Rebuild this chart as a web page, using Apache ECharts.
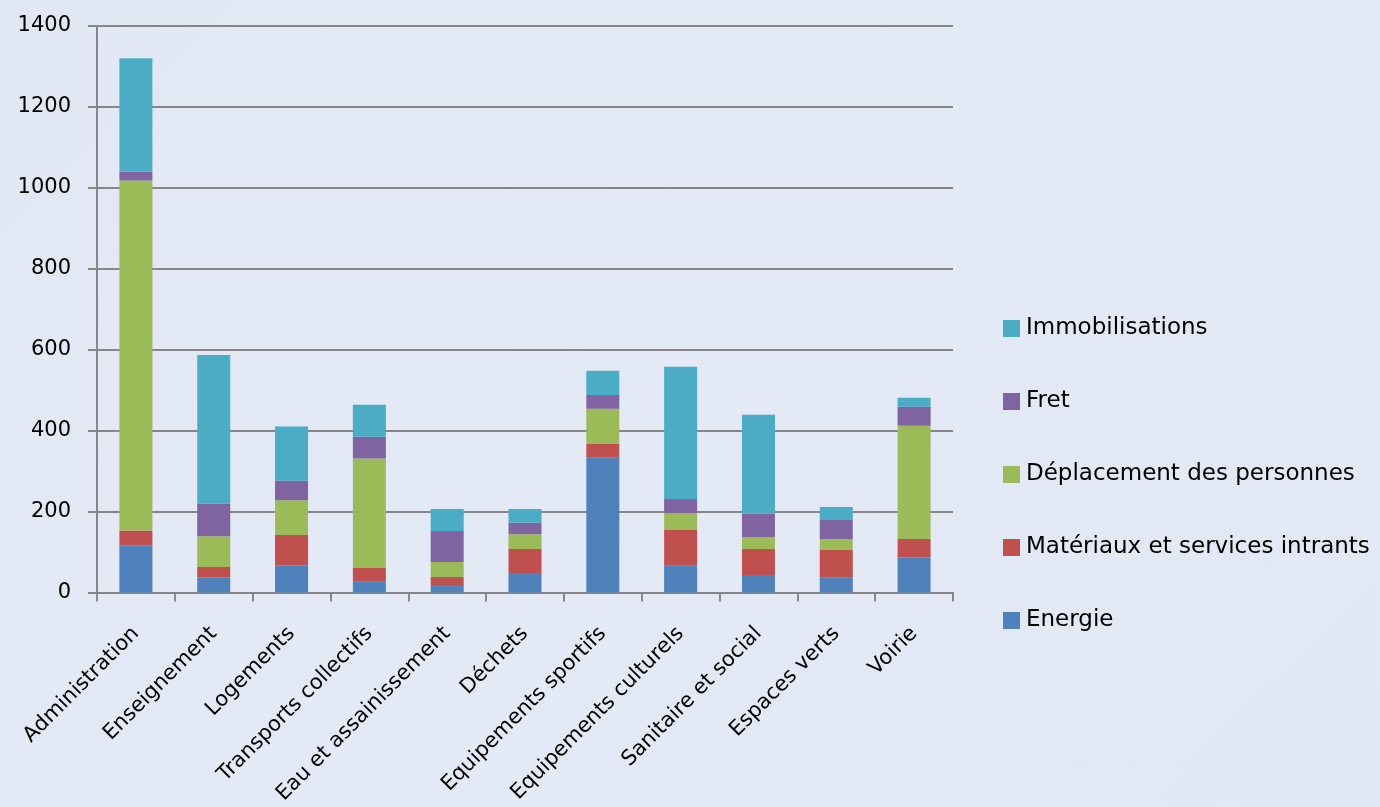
<!DOCTYPE html>
<html><head><meta charset="utf-8">
<script src="https://cdn.jsdelivr.net/npm/echarts@6/dist/echarts.min.js"></script>
<style>
html,body{margin:0;padding:0;}
#c{width:1380px;height:807px;background:linear-gradient(135deg,#e1e7f3 0%,#e3e9f5 50%,#e1e8f4 100%);}
</style></head><body>
<div id="c"></div>
<script>
const categories = ['Administration','Enseignement','Logements','Transports collectifs','Eau et assainissement','Déchets','Equipements sportifs','Equipements culturels','Sanitaire et social','Espaces verts','Voirie'];
const energie        = [115, 37, 67, 26, 18, 48, 333, 66, 43, 36, 86];
const materiaux      = [38, 26, 75, 34, 20, 59, 34, 88, 64, 69, 46];
const deplacement    = [865, 76, 86, 271, 37, 37, 87, 42, 30, 27, 280];
const fret           = [22, 81, 48, 54, 77, 28, 34, 35, 58, 47, 47];
const immobilisations= [280, 367, 134, 79, 54, 34, 60, 327, 244, 32, 22];
const yTicks = [0, 200, 400, 600, 800, 1000, 1200, 1400];

const names = ['Energie','Matériaux et services intrants','Déplacement des personnes','Fret','Immobilisations'];
const colors = ['#4f81bd','#c0504d','#9bbb59','#8064a2','#4bacc6'];
const datas = [energie, materiaux, deplacement, fret, immobilisations];

const chart = echarts.init(document.getElementById('c'), null, {renderer:'canvas'});
const font = '"DejaVu Sans", sans-serif';
chart.setOption({
  animation:false,
  grid:{left:97, right:427, top:26, bottom:212},
  legend:{
    orient:'vertical', left:998, top:312,
    itemWidth:17, itemHeight:17, itemGap:50,
    icon:'rect',
    data:names.slice().reverse(),
    textStyle:{fontFamily:font, fontSize:23, color:'#000', padding:[0,0,0,1]}
  },
  xAxis:{
    type:'category', data:categories,
    axisLine:{lineStyle:{color:'#868686', width:2}},
    axisTick:{show:true, alignWithLabel:false, length:9, lineStyle:{color:'#868686', width:2}},
    axisLabel:{rotate:45, interval:0, margin:38, fontFamily:font, fontSize:21, color:'#000'}
  },
  yAxis:{
    type:'value', min:0, max:1400, interval:200,
    axisLine:{show:true, lineStyle:{color:'#868686', width:2}},
    axisTick:{show:true, length:9, lineStyle:{color:'#868686', width:2}},
    splitLine:{lineStyle:{color:'#868686', width:2}},
    axisLabel:{margin:26, fontFamily:font, fontSize:21, color:'#000',
      formatter:v=> yTicks.includes(v) ? String(v) : ''}
  },
  series: datas.map((d,i)=>({
    name:names[i], type:'bar', stack:'total', data:d, barWidth:33,
    itemStyle:{color:colors[i]}
  }))
});
</script>
</body></html>
